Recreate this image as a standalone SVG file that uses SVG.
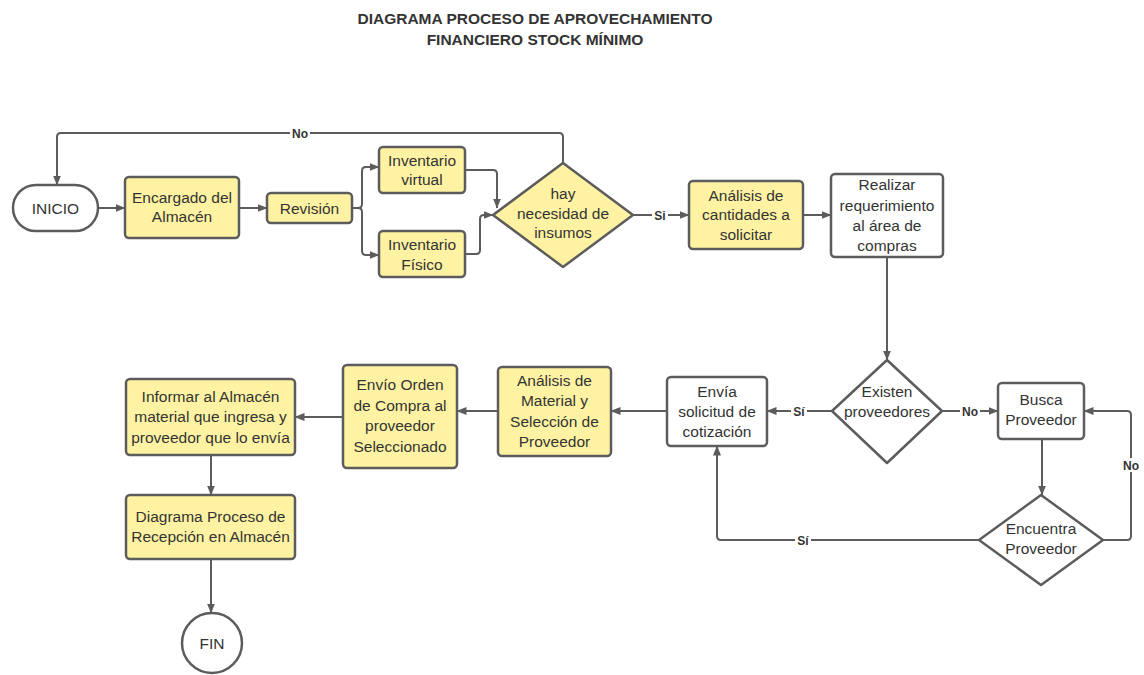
<svg xmlns="http://www.w3.org/2000/svg" width="1144" height="675" viewBox="0 0 1144 675">
  <defs>
    <marker id="arrow" viewBox="0 0 10 10" refX="9.5" refY="5" markerWidth="10" markerHeight="10" markerUnits="userSpaceOnUse" orient="auto">
      <path d="M0,1 L10,5 L0,9 Z" fill="#5c5c5c"/>
    </marker>
    <style>
      .box { fill: #fff3a3; stroke: #5c5c5c; stroke-width: 2.5; }
      .plain { fill: #ffffff; stroke: #5c5c5c; stroke-width: 2.5; }
      .txt { font-family: "Liberation Sans", Arial, sans-serif; font-size: 15.5px; fill: #333333; text-anchor: middle; }
      .title { font-family: "Liberation Sans", Arial, sans-serif; font-size: 15.5px; font-weight: bold; fill: #333333; text-anchor: middle; }
      .wire { fill: none; stroke: #5c5c5c; stroke-width: 2; stroke-linejoin: round; }
      .arr { marker-end: url(#arrow); }
      .lbl { font-family: "Liberation Sans", Arial, sans-serif; font-size: 12px; font-weight: bold; fill: #333333; text-anchor: middle; }
      .lblbg { fill: #ffffff; }
    </style>
  </defs>

  <rect width="1144" height="675" fill="#ffffff"/>

  <!-- title -->
  <text class="title" x="535" y="24">DIAGRAMA PROCESO DE APROVECHAMIENTO</text>
  <text class="title" x="535" y="45">FINANCIERO STOCK MÍNIMO</text>

  <!-- connectors -->
  <g id="connectors">
    <!-- No loop back to start -->
    <path class="wire arr" d="M563,163 V137 Q563,133 559,133 H61 Q57,133 57,137 V185"/>
    <line class="wire arr" x1="98" y1="208" x2="125" y2="208"/>
    <line class="wire arr" x1="239" y1="208" x2="267" y2="208"/>
    <!-- split after Revisión -->
    <path class="wire" d="M352,208 H358 Q362,208 362,204 V171 Q362,167 366,167"/>
    <line class="wire arr" x1="365" y1="167" x2="379" y2="167"/>
    <path class="wire" d="M358,208 Q362,208 362,212 V251 Q362,255 366,255"/>
    <line class="wire arr" x1="365" y1="255" x2="379" y2="255"/>
    <!-- inventories into decision -->
    <path class="wire arr" d="M465,170 H493 Q497,170 497,174 V208"/>
    <path class="wire" d="M465,254 H476 Q480,254 480,250 V219 Q480,215 484,215"/>
    <line class="wire arr" x1="483" y1="215" x2="493" y2="215"/>
    <!-- Si -->
    <line class="wire arr" x1="633" y1="215" x2="689" y2="215"/>
    <line class="wire arr" x1="803" y1="215" x2="831" y2="215"/>
    <line class="wire arr" x1="887" y1="257" x2="887" y2="360"/>
    <!-- Existen -->
    <line class="wire arr" x1="832" y1="411" x2="767" y2="411"/>
    <line class="wire arr" x1="942" y1="411" x2="998" y2="411"/>
    <line class="wire arr" x1="1042" y1="439" x2="1042" y2="495"/>
    <!-- Encuentra No loop -->
    <path class="wire arr" d="M1103,540 H1127 Q1131,540 1131,536 V415 Q1131,411 1127,411 H1084"/>
    <!-- Encuentra Sí loop -->
    <path class="wire arr" d="M979,540 H721 Q717,540 717,536 V446"/>
    <!-- lower row -->
    <line class="wire arr" x1="667" y1="411" x2="611" y2="411"/>
    <line class="wire arr" x1="498" y1="411" x2="457" y2="411"/>
    <line class="wire arr" x1="343" y1="417" x2="295" y2="417"/>
    <line class="wire arr" x1="211" y1="455" x2="211" y2="495"/>
    <line class="wire arr" x1="211" y1="559" x2="211" y2="613"/>

    <!-- connector labels -->
    <rect class="lblbg" x="290" y="126" width="20" height="14"/>
    <text class="lbl" x="300" y="137.5">No</text>
    <rect class="lblbg" x="652" y="208" width="16" height="14"/>
    <text class="lbl" x="660" y="219.5">Si</text>
    <rect class="lblbg" x="791" y="404" width="16" height="14"/>
    <text class="lbl" x="799" y="415.5">Sí</text>
    <rect class="lblbg" x="960" y="404" width="20" height="14"/>
    <text class="lbl" x="970" y="415.5">No</text>
    <rect class="lblbg" x="1121" y="458" width="20" height="14"/>
    <text class="lbl" x="1131" y="469.5">No</text>
    <rect class="lblbg" x="795" y="533" width="16" height="14"/>
    <text class="lbl" x="803" y="544.5">Sí</text>
  </g>

  <!-- nodes -->
  <g id="inicio">
    <rect class="plain" x="13" y="185" width="85" height="46" rx="23"/>
    <text class="txt" x="55.5" y="213.5">INICIO</text>
  </g>
  <g id="encargado">
    <rect class="box" x="125" y="177" width="114" height="61" rx="4"/>
    <text class="txt" x="182" y="203">Encargado del</text>
    <text class="txt" x="182" y="222">Almacén</text>
  </g>
  <g id="revision">
    <rect class="box" x="267" y="193" width="85" height="30" rx="4"/>
    <text class="txt" x="309.5" y="213.5">Revisión</text>
  </g>
  <g id="inv-virtual">
    <rect class="box" x="379" y="147" width="86" height="46" rx="4"/>
    <text class="txt" x="422" y="166">Inventario</text>
    <text class="txt" x="422" y="185">virtual</text>
  </g>
  <g id="inv-fisico">
    <rect class="box" x="379" y="231" width="86" height="46" rx="4"/>
    <text class="txt" x="422" y="250">Inventario</text>
    <text class="txt" x="422" y="270">Físico</text>
  </g>
  <g id="necesidad">
    <path class="box" d="M563,163 L633,215 L563,267 L493,215 Z" stroke-linejoin="round"/>
    <text class="txt" x="563" y="199">hay</text>
    <text class="txt" x="563" y="219">necesidad de</text>
    <text class="txt" x="563" y="238">insumos</text>
  </g>
  <g id="analisis-cantidades">
    <rect class="box" x="689" y="181" width="114" height="68" rx="4"/>
    <text class="txt" x="746" y="201">Análisis de</text>
    <text class="txt" x="746" y="220">cantidades a</text>
    <text class="txt" x="746" y="240">solicitar</text>
  </g>
  <g id="requerimiento">
    <rect class="plain" x="831" y="174" width="112" height="83" rx="4"/>
    <text class="txt" x="887" y="190">Realizar</text>
    <text class="txt" x="887" y="211">requerimiento</text>
    <text class="txt" x="887" y="231">al área de</text>
    <text class="txt" x="887" y="251">compras</text>
  </g>
  <g id="existen">
    <path class="plain" d="M887,360 L942,411 L887,463 L832,411 Z" stroke-linejoin="round"/>
    <text class="txt" x="887" y="397">Existen</text>
    <text class="txt" x="887" y="417">proveedores</text>
  </g>
  <g id="busca">
    <rect class="plain" x="998" y="383" width="86" height="56" rx="4"/>
    <text class="txt" x="1041" y="405">Busca</text>
    <text class="txt" x="1041" y="425">Proveedor</text>
  </g>
  <g id="encuentra">
    <path class="plain" d="M1041,495 L1103,540 L1041,585 L979,540 Z" stroke-linejoin="round"/>
    <text class="txt" x="1041" y="534">Encuentra</text>
    <text class="txt" x="1041" y="554">Proveedor</text>
  </g>
  <g id="cotizacion">
    <rect class="plain" x="667" y="377" width="100" height="69" rx="4"/>
    <text class="txt" x="717" y="397">Envía</text>
    <text class="txt" x="717" y="417">solicitud de</text>
    <text class="txt" x="717" y="437">cotización</text>
  </g>
  <g id="analisis-material">
    <rect class="box" x="498" y="367" width="113" height="89" rx="4"/>
    <text class="txt" x="554.5" y="386">Análisis de</text>
    <text class="txt" x="554.5" y="406">Material y</text>
    <text class="txt" x="554.5" y="427">Selección de</text>
    <text class="txt" x="554.5" y="447">Proveedor</text>
  </g>
  <g id="orden-compra">
    <rect class="box" x="343" y="365" width="114" height="103" rx="4"/>
    <text class="txt" x="400" y="390">Envío Orden</text>
    <text class="txt" x="400" y="411">de Compra al</text>
    <text class="txt" x="400" y="431">proveedor</text>
    <text class="txt" x="400" y="452">Seleccionado</text>
  </g>
  <g id="informar">
    <rect class="box" x="126" y="379" width="169" height="76" rx="4"/>
    <text class="txt" x="210.5" y="402">Informar al Almacén</text>
    <text class="txt" x="210.5" y="422">material que ingresa y</text>
    <text class="txt" x="210.5" y="443">proveedor que lo envía</text>
  </g>
  <g id="recepcion">
    <rect class="box" x="126" y="495" width="169" height="64" rx="4"/>
    <text class="txt" x="210.5" y="522">Diagrama Proceso de</text>
    <text class="txt" x="210.5" y="542">Recepción en Almacén</text>
  </g>
  <g id="fin">
    <circle class="plain" cx="212" cy="643" r="30"/>
    <text class="txt" x="212" y="649">FIN</text>
  </g>
</svg>
